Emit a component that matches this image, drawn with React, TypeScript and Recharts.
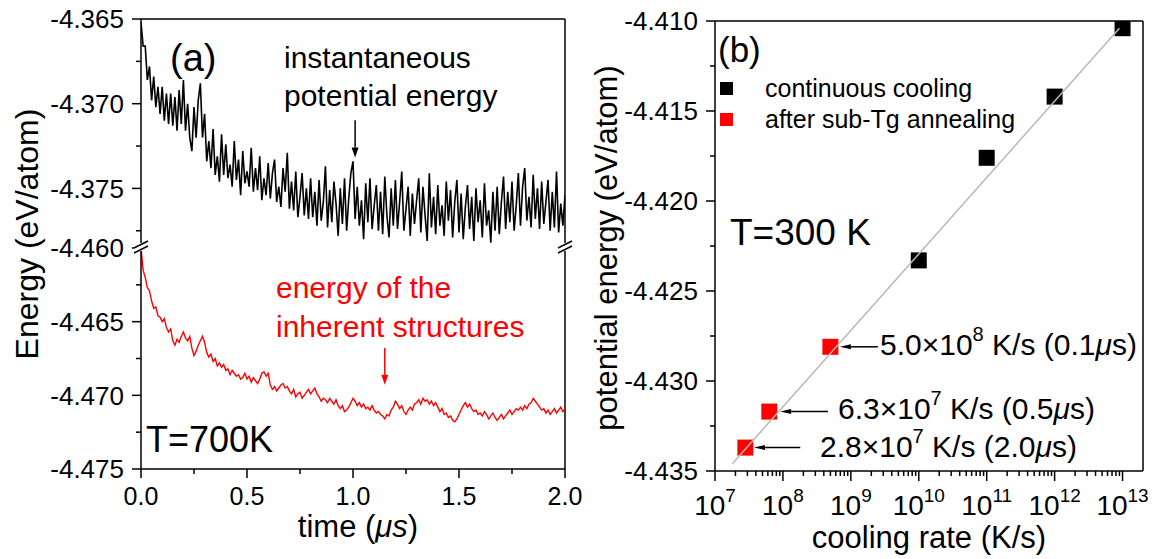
import React from 'react';
import { LineChart, Line, XAxis, YAxis, ReferenceLine, ScatterChart, Scatter } from 'recharts';

const FONT = '"Liberation Sans", Arial, Helvetica, sans-serif';

// (a) sampling step of both traces, in microseconds
const T_STEP = 0.01;

// (a) instantaneous potential energy, eV/atom, t = 0 .. 2.0 us
const INST_ENERGY = [
  -4.3652, -4.3666, -4.3666, -4.3686, -4.3678, -4.3698, -4.3684, -4.3702, -4.369, -4.3706,
  -4.369, -4.371, -4.3694, -4.3712, -4.3694, -4.3713, -4.3696, -4.3716, -4.3692, -4.3712,
  -4.3686, -4.3716, -4.37, -4.372, -4.3728, -4.3702, -4.372, -4.3698, -4.3688, -4.372,
  -4.3706, -4.3734, -4.3722, -4.3738, -4.3715, -4.3742, -4.3731, -4.3746, -4.3718, -4.3742,
  -4.3724, -4.3744, -4.3736, -4.3749, -4.3722, -4.3745, -4.3733, -4.3754, -4.3728, -4.3747,
  -4.374, -4.3749, -4.3726, -4.3752, -4.3738, -4.3751, -4.3731, -4.3757, -4.3744, -4.3754,
  -4.3735, -4.3756, -4.3741, -4.3733, -4.3758, -4.3749, -4.3761, -4.3738, -4.3752, -4.3729,
  -4.3762, -4.3746, -4.3763, -4.374, -4.3767, -4.3755, -4.3741, -4.3766, -4.375, -4.3768,
  -4.3744, -4.3767, -4.3752, -4.3772, -4.3745, -4.3769, -4.3758, -4.3737, -4.3773, -4.3751,
  -4.377, -4.3746, -4.3759, -4.3778, -4.375, -4.3771, -4.3744, -4.3775, -4.3756, -4.3741,
  -4.3734, -4.3768, -4.3749, -4.3772, -4.3757, -4.378, -4.3747, -4.377, -4.3744, -4.3774,
  -4.376, -4.3748, -4.3775, -4.3752, -4.3777, -4.3743, -4.3766, -4.3779, -4.375, -4.3772,
  -4.3745, -4.3774, -4.3758, -4.374, -4.3775, -4.3762, -4.3749, -4.3778, -4.3753, -4.3771,
  -4.3757, -4.3744, -4.3776, -4.3749, -4.3766, -4.3781, -4.3741, -4.3773, -4.3755, -4.3777,
  -4.3748, -4.3772, -4.376, -4.3778, -4.3746, -4.3769, -4.3751, -4.3779, -4.3758, -4.3745,
  -4.3776, -4.3753, -4.378, -4.3761, -4.3748, -4.3774, -4.3755, -4.3781, -4.375, -4.377,
  -4.3757, -4.3779, -4.3747, -4.3772, -4.3763, -4.3782, -4.3752, -4.3775, -4.3749, -4.3777,
  -4.3758, -4.3743, -4.3774, -4.3752, -4.377, -4.3746, -4.3775, -4.376, -4.3741, -4.3772,
  -4.3749, -4.3738, -4.3769, -4.3755, -4.3773, -4.3742, -4.3768, -4.375, -4.3774, -4.3746,
  -4.3771, -4.3758, -4.3745, -4.3775, -4.3752, -4.3773, -4.374, -4.3776, -4.3759, -4.3772,
  -4.3754,
];

// (a) energy of the inherent structures, eV/atom, same time grid
const IS_ENERGY = [
  -4.46, -4.4615, -4.462, -4.4627, -4.4629, -4.4636, -4.4641, -4.464, -4.4646, -4.4647,
  -4.465, -4.4648, -4.4654, -4.4657, -4.4655, -4.4663, -4.4666, -4.4662, -4.4664, -4.466,
  -4.4657, -4.4661, -4.4663, -4.466, -4.4668, -4.4673, -4.467, -4.4666, -4.4663, -4.466,
  -4.4664, -4.4671, -4.4674, -4.4672, -4.4677, -4.4675, -4.468, -4.4678, -4.4681, -4.4679,
  -4.4683, -4.4682, -4.4686, -4.4683, -4.4685, -4.4687, -4.4686, -4.4689, -4.4688, -4.4685,
  -4.4689, -4.4687, -4.4691, -4.4688, -4.469, -4.4692, -4.4689, -4.4685, -4.4684, -4.4687,
  -4.4685, -4.4693, -4.4696, -4.4694, -4.4697, -4.4695, -4.4693, -4.4692, -4.4695, -4.4694,
  -4.4697, -4.4699, -4.4696, -4.4701, -4.4699, -4.4698, -4.4702, -4.47, -4.4698, -4.4696,
  -4.4699, -4.4697, -4.4695, -4.4699, -4.4701, -4.4704, -4.4702, -4.4703, -4.4705, -4.4702,
  -4.4704, -4.4706, -4.4703, -4.4707, -4.4709, -4.4707, -4.4711, -4.471, -4.4708, -4.4705,
  -4.4702, -4.4704, -4.4707, -4.4705, -4.4708, -4.4706, -4.4709, -4.4708, -4.471, -4.4707,
  -4.471, -4.4712, -4.4711, -4.4713, -4.4714, -4.4716, -4.4713, -4.4714, -4.471, -4.4708,
  -4.4704, -4.4706, -4.4709, -4.4707, -4.4711, -4.4713, -4.471, -4.4708, -4.471, -4.4706,
  -4.4705, -4.4703, -4.4706, -4.4702, -4.4704, -4.4703, -4.4706, -4.4704, -4.4707, -4.4705,
  -4.4708, -4.4711, -4.4709, -4.4713, -4.4712, -4.4715, -4.4714, -4.4717, -4.4718, -4.4716,
  -4.4713, -4.471, -4.4707, -4.4705, -4.4708, -4.4706, -4.4709, -4.4711, -4.471, -4.4713,
  -4.4712, -4.4714, -4.4711, -4.4713, -4.4716, -4.4714, -4.4712, -4.4715, -4.4717, -4.4715,
  -4.4713, -4.4716, -4.4714, -4.4712, -4.471, -4.4713, -4.4711, -4.4709, -4.471, -4.4708,
  -4.471, -4.4707, -4.4709, -4.4706, -4.4705, -4.4702, -4.4704, -4.4706, -4.4708, -4.471,
  -4.4709, -4.4712, -4.471, -4.4713, -4.4711, -4.4709, -4.4712, -4.471, -4.4708, -4.4711,
  -4.4709,
];

// (b) continuous cooling
const CC_RATE = [1e10, 1e11, 1e12, 1e13];
const CC_ENERGY = [-4.4233, -4.4176, -4.4142, -4.4104];

// (b) after sub-Tg annealing
const ANN_RATE = [2.8e7, 6.3e7, 5.0e8];
const ANN_ENERGY = [-4.4337, -4.4317, -4.4281];

// (b) grey fit line end points
const FIT_RATE = [1.8e7, 9e12];
const FIT_ENERGY = [-4.4346, -4.4104];

// ticks
const TIME_TICKS = [0, 0.25, 0.5, 0.75, 1, 1.25, 1.5, 1.75, 2];
const UPPER_TICKS = [-4.365, -4.3675, -4.37, -4.3725, -4.375, -4.3775];
const LOWER_TICKS = [-4.46, -4.4625, -4.465, -4.4675, -4.47, -4.4725, -4.475];
const PE_TICKS = [-4.435, -4.4325, -4.43, -4.4275, -4.425, -4.4225, -4.42, -4.4175, -4.415, -4.4125, -4.41];
const RATE_DECADES = [1e7, 1e8, 1e9, 1e10, 1e11, 1e12, 1e13];
const MINOR_MULT = [2, 3, 4, 5, 6, 7, 8, 9];

const rateTicks: number[] = [];
RATE_DECADES.forEach((d, i) => {
  rateTicks.push(d);
  if (i < RATE_DECADES.length - 1) MINOR_MULT.forEach((m) => rateTicks.push(d * m));
});

const instData = INST_ENERGY.map((e, i) => ({ t: +(i * T_STEP).toFixed(2), e }));
const isData = IS_ENERGY.map((e, i) => ({ t: +(i * T_STEP).toFixed(2), e }));
const ccData = CC_RATE.map((r, i) => ({ rate: r, energy: CC_ENERGY[i] }));
const annData = ANN_RATE.map((r, i) => ({ rate: r, energy: ANN_ENERGY[i] }));
const fitData = FIT_RATE.map((r, i) => ({ rate: r, energy: FIT_ENERGY[i] }));

const AX = { stroke: '#000', strokeWidth: 1.5 };

const YTick = ({ x, y, payload, index }: any) => {
  const major = index % 2 === 0;
  return (
    <g>
      <line x1={x - (major ? 9 : 5)} x2={x} y1={y} y2={y} stroke="#000" strokeWidth={1.5} />
      {major && (
        <text x={x - 17} y={y} dy="0.36em" textAnchor="end" fontSize={26} fontFamily={FONT} fill="#000">
          {payload.value.toFixed(3)}
        </text>
      )}
    </g>
  );
};

const TimeTick = ({ x, y, payload, index }: any) => {
  const major = index % 2 === 0;
  return (
    <g>
      <line x1={x} x2={x} y1={y} y2={y + (major ? 9 : 5)} stroke="#000" strokeWidth={1.5} />
      {major && (
        <text x={x} y={y + 36} textAnchor="middle" fontSize={25} fontFamily={FONT} fill="#000">
          {payload.value.toFixed(1)}
        </text>
      )}
    </g>
  );
};

const RateTick = ({ x, y, payload }: any) => {
  const exp = Math.log10(payload.value);
  const major = Math.abs(exp - Math.round(exp)) < 1e-6;
  return (
    <g>
      <line x1={x} x2={x} y1={y} y2={y + (major ? 10 : 5)} stroke="#000" strokeWidth={1.5} />
      {major && (
        <text x={x} y={y + 44} textAnchor="middle" fontSize={28} fontFamily={FONT} fill="#000">
          10
          <tspan dy={-13} fontSize={19}>
            {Math.round(exp)}
          </tspan>
        </text>
      )}
    </g>
  );
};

const arrow = (color: string, len: number, half: number) => (p: any) => {
  const { x1, y1, x2, y2 } = p;
  const a = Math.atan2(y2 - y1, x2 - x1);
  const bx = x2 - len * Math.cos(a);
  const by = y2 - len * Math.sin(a);
  const px = -Math.sin(a) * half;
  const py = Math.cos(a) * half;
  return (
    <g>
      <line x1={x1} y1={y1} x2={bx} y2={by} stroke={color} strokeWidth={1.5} />
      <polygon points={`${x2},${y2} ${bx + px},${by + py} ${bx - px},${by - py}`} fill={color} />
    </g>
  );
};

const blackSquare = (p: any) => <rect x={p.cx - 8} y={p.cy - 8} width={16} height={16} fill="#000" />;
const redSquare = (p: any) => <rect x={p.cx - 8} y={p.cy - 8} width={16} height={16} fill="#ff0000" />;

export default function App() {
  return (
    <div style={{ position: 'absolute', left: 0, top: 0, width: 1153, height: 559, background: '#fff', overflow: 'hidden' }}>
      {/* (a) upper part: instantaneous energy */}
      <div style={{ position: 'absolute', left: 0, top: 0 }}>
        <LineChart width={600} height={250} data={instData} margin={{ top: 19, right: 35, bottom: 4, left: 0 }}>
          <XAxis dataKey="t" type="number" domain={[0, 2]} hide allowDataOverflow />
          <YAxis
            type="number"
            domain={[-4.3784, -4.365]}
            allowDataOverflow
            ticks={UPPER_TICKS}
            interval={0}
            width={141}
            tickSize={0}
            tickMargin={0}
            tickLine={false}
            axisLine={AX}
            tick={<YTick />}
          />
          <ReferenceLine y={-4.365} stroke="#000" strokeWidth={1.5} />
          <ReferenceLine x={2} stroke="#000" strokeWidth={1.5} />
          <Line dataKey="e" stroke="#000" strokeWidth={1.6} dot={false} isAnimationActive={false} />
          <ReferenceLine
            segment={[{ x: 1.01, y: -4.37098 }, { x: 1.01, y: -4.37317 }]}
            stroke="#000"
            shape={arrow('#000', 10, 3.5)}
          />
        </LineChart>
      </div>

      {/* (a) lower part: inherent structures */}
      <div style={{ position: 'absolute', left: 0, top: 229 }}>
        <LineChart width={600} height={332} data={isData} margin={{ top: 19, right: 35, bottom: 0, left: 0 }}>
          <XAxis
            dataKey="t"
            type="number"
            domain={[0, 2]}
            allowDataOverflow
            ticks={TIME_TICKS}
            interval={0}
            height={92}
            tickSize={0}
            tickMargin={0}
            tickLine={false}
            axisLine={AX}
            tick={<TimeTick />}
          />
          <YAxis
            type="number"
            domain={[-4.475, -4.46]}
            allowDataOverflow
            ticks={LOWER_TICKS}
            interval={0}
            width={141}
            tickSize={0}
            tickMargin={0}
            tickLine={false}
            axisLine={AX}
            tick={<YTick />}
          />
          <ReferenceLine x={2} stroke="#000" strokeWidth={1.5} />
          <Line dataKey="e" stroke="#ff0000" strokeWidth={1.4} dot={false} isAnimationActive={false} />
          <ReferenceLine
            segment={[{ x: 1.15, y: -4.46678 }, { x: 1.15, y: -4.46929 }]}
            stroke="#ff0000"
            shape={arrow('#ff0000', 10, 3.5)}
          />
        </LineChart>
      </div>

      {/* (b) */}
      <div style={{ position: 'absolute', left: 580, top: 0 }}>
        <ScatterChart width={573} height={559} margin={{ top: 21, right: 10, bottom: 0, left: 0 }}>
          <XAxis
            dataKey="rate"
            type="number"
            scale="log"
            domain={[1e7, 2e13]}
            allowDataOverflow
            ticks={rateTicks}
            interval={0}
            height={88}
            tickSize={0}
            tickMargin={0}
            tickLine={false}
            axisLine={AX}
            tick={<RateTick />}
          />
          <YAxis
            dataKey="energy"
            type="number"
            domain={[-4.435, -4.41]}
            allowDataOverflow
            ticks={PE_TICKS}
            interval={0}
            width={135}
            tickSize={0}
            tickMargin={0}
            tickLine={false}
            axisLine={AX}
            tick={<YTick />}
          />
          <ReferenceLine y={-4.41} stroke="#000" strokeWidth={1.5} />
          <ReferenceLine x={2e13} stroke="#000" strokeWidth={1.5} />
          <Scatter data={ccData} shape={blackSquare} isAnimationActive={false} />
          <Scatter data={annData} shape={redSquare} isAnimationActive={false} />
          <Scatter
            data={fitData}
            line={{ stroke: '#b8b8b8', strokeWidth: 1.5 }}
            shape={() => <g />}
            isAnimationActive={false}
          />
          <ReferenceLine
            segment={[{ x: 2.5e9, y: -4.4281 }, { x: 6.9e8, y: -4.4281 }]}
            stroke="#000"
            shape={arrow('#000', 11, 2.5)}
          />
          <ReferenceLine
            segment={[{ x: 4.6e8, y: -4.4317 }, { x: 9.1e7, y: -4.4317 }]}
            stroke="#000"
            shape={arrow('#000', 11, 2.5)}
          />
          <ReferenceLine
            segment={[{ x: 1.8e8, y: -4.4337 }, { x: 3.75e7, y: -4.4337 }]}
            stroke="#000"
            shape={arrow('#000', 11, 2.5)}
          />
        </ScatterChart>
      </div>

      {/* text and axis-break overlay */}
      <svg
        width={1153}
        height={559}
        style={{ position: 'absolute', left: 0, top: 0, pointerEvents: 'none' }}
        fontFamily={FONT}
      >
        {/* axis breaks */}
        <rect x={134} y={243} width={14} height={8} fill="#fff" />
        <line x1={134} y1={248} x2={148} y2={241} stroke="#000" strokeWidth={1.5} />
        <line x1={134} y1={253} x2={148} y2={246} stroke="#000" strokeWidth={1.5} />
        <rect x={558} y={243} width={14} height={8} fill="#fff" />
        <line x1={558} y1={248} x2={572} y2={241} stroke="#000" strokeWidth={1.5} />
        <line x1={558} y1={253} x2={572} y2={246} stroke="#000" strokeWidth={1.5} />

        {/* (a) texts */}
        <text x={170} y={71} fontSize={38} fill="#000">(a)</text>
        <text x={284} y={68} fontSize={30} fill="#000">instantaneous</text>
        <text x={284} y={106} fontSize={30} fill="#000">potential energy</text>
        <text x={276} y={298} fontSize={30} fill="#ff0000">energy of the</text>
        <text x={276} y={337} fontSize={30} fill="#ff0000">inherent structures</text>
        <text x={146} y={452} fontSize={36} fill="#000">T=700K</text>
        <text transform="translate(27,234) rotate(-90)" textAnchor="middle" dominantBaseline="central" fontSize={32} fill="#000">
          Energy (eV/atom)
        </text>
        <text x={358} y={537} textAnchor="middle" fontSize={31} fill="#000">
          time (<tspan fontStyle="italic">μs</tspan>)
        </text>

        {/* (b) texts */}
        <text x={718} y={62} fontSize={35} fill="#000">(b)</text>
        <rect x={720} y={82} width={13} height={13} fill="#000" />
        <text x={765} y={97} fontSize={25} fill="#000">continuous cooling</text>
        <rect x={720} y={113} width={13} height={13} fill="#ff0000" />
        <text x={765} y={128} fontSize={25} fill="#000">after sub-Tg annealing</text>
        <text x={730} y={245} fontSize={37} fill="#000">T=300 K</text>
        <text x={880} y={355} fontSize={30} fill="#000">
          5.0×10<tspan dy={-14} fontSize={20}>8</tspan>
          <tspan dy={14}> K/s (0.1</tspan>
          <tspan fontStyle="italic">μ</tspan>s)
        </text>
        <text x={838} y={419} fontSize={30} fill="#000">
          6.3×10<tspan dy={-14} fontSize={20}>7</tspan>
          <tspan dy={14}> K/s (0.5</tspan>
          <tspan fontStyle="italic">μ</tspan>s)
        </text>
        <text x={820} y={457} fontSize={30} fill="#000">
          2.8×10<tspan dy={-14} fontSize={20}>7</tspan>
          <tspan dy={14}> K/s (2.0</tspan>
          <tspan fontStyle="italic">μ</tspan>s)
        </text>
        <text transform="translate(606,248) rotate(-90)" textAnchor="middle" dominantBaseline="central" fontSize={31} fill="#000">
          potential energy (eV/atom)
        </text>
        <text x={929} y={548} textAnchor="middle" fontSize={31} fill="#000">
          cooling rate (K/s)
        </text>
      </svg>
    </div>
  );
}
